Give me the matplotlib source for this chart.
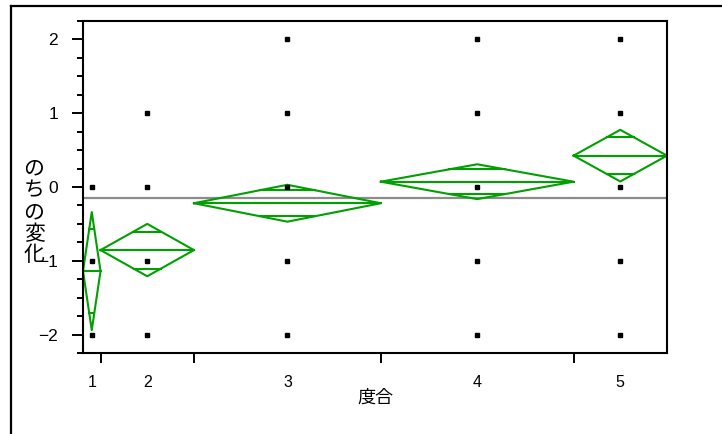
import numpy as np
import matplotlib
matplotlib.use('Agg')
import matplotlib.pyplot as plt
from matplotlib.lines import Line2D

plt.rcParams['font.family'] = ['Liberation Sans', 'Noto Sans CJK JP', 'DejaVu Sans']

# groups (度合), sample sizes set the column widths
groups = ['1', '2', '3', '4', '5']
counts = [3, 16, 32, 33, 16]
means = [-1.14, -0.855, -0.22, 0.072, 0.425]
ci_half = [0.80, 0.355, 0.25, 0.236, 0.35]
grand_mean = -0.155
# distinct observed values per group
points = [
    [0, -1, -2],
    [1, 0, -1, -2],
    [2, 1, 0, -1, -2],
    [2, 1, 0, -1, -2],
    [2, 1, 0, -1, -2],
]

green = '#00a000'

fig = plt.figure(figsize=(7.22, 4.34), dpi=100)
ax = fig.add_axes([83/722, 1 - 353/434, (667 - 83)/722, (353 - 21)/434])

edges = np.concatenate([[0], np.cumsum(counts)])
centers = (edges[:-1] + edges[1:]) / 2

ax.axhline(grand_mean, color='#8c8c8c', lw=1.6, zorder=1)

for i in range(len(groups)):
    x0, x1, xc = edges[i], edges[i + 1], centers[i]
    m, h = means[i], ci_half[i]
    ax.plot([x0, xc, x1, xc, x0], [m, m + h, m, m - h, m], color=green, lw=1.5, zorder=2)
    ax.plot([x0, x1], [m, m], color=green, lw=1.5, zorder=2)
    # overlap marks
    d = h / np.sqrt(2)
    f = 1 - d / h
    hw = (x1 - x0) / 2 * f
    for yy in (m + d, m - d):
        ax.plot([xc - hw, xc + hw], [yy, yy], color=green, lw=1.5, zorder=2)
    ax.plot([xc] * len(points[i]), points[i], 's', color='black', ms=3.5, zorder=3)

ax.set_xlim(0, edges[-1])
ax.set_ylim(-2.25, 2.25)

ax.set_yticks([-2, -1, 0, 1, 2])
ax.set_yticklabels(['\u22122', '\u22121', '0', '1', '2'], fontsize=12.5)
ax.set_yticks(np.arange(-2.25, 2.26, 0.25), minor=True)
ax.tick_params(axis='y', which='major', length=8, width=1.4, pad=10)
ax.tick_params(axis='y', which='minor', length=4.5, width=1.4)

ax.set_xticks(edges[1:-1])
ax.set_xticklabels([])
ax.set_xticks(centers, minor=True)
ax.set_xticklabels(groups, minor=True, fontsize=11.5)
ax.tick_params(axis='x', which='major', length=7, width=1.4)
ax.tick_params(axis='x', which='minor', length=0, pad=16)

for s in ax.spines.values():
    s.set_linewidth(1.5)

ax.set_xlabel('度合', fontsize=13, labelpad=-1, family=['Noto Sans CJK JP'])
fig.text(34/722, 1 - 212/434, 'の\nち\nの\n変\n化', ha='center', va='center',
         fontsize=15, linespacing=0.98, family=['Noto Sans CJK JP'])

# outer frame (only top and left edges visible)
fig.add_artist(Line2D([11/722, 1], [1 - 6/434, 1 - 6/434], color='black', lw=1.6,
                      transform=fig.transFigure))
fig.add_artist(Line2D([11/722, 11/722], [0, 1 - 6/434], color='black', lw=1.6,
                      transform=fig.transFigure))

fig.savefig('out.png', dpi=100)
